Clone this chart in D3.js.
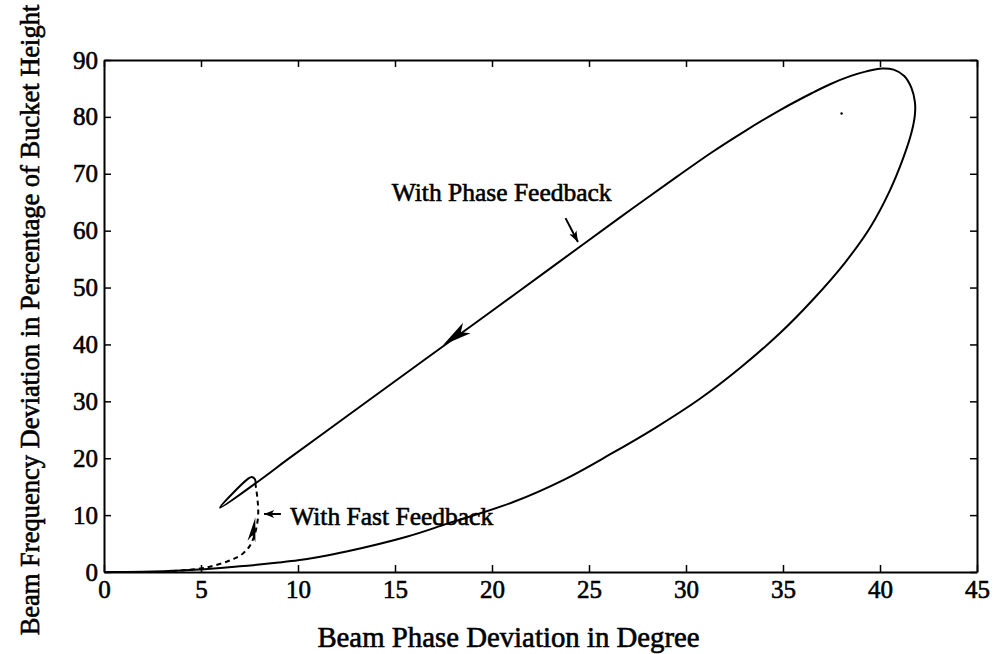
<!DOCTYPE html>
<html>
<head>
<meta charset="utf-8">
<script src="https://cdn.jsdelivr.net/npm/d3@7"></script>
<style>
    html, body { margin: 0; padding: 0; background: #fff; }
    svg text { font-family: "Liberation Serif", "Times New Roman", serif; fill: #000; }
</style>
</head>
<body>
<script>
// values
const xTicks = [0, 5, 10, 15, 20, 25, 30, 35, 40, 45];
const yTicks = [0, 10, 20, 30, 40, 50, 60, 70, 80, 90];

// trajectory with phase feedback: [phase deg, freq %]
const phaseFeedback = [
    [0, 0], [2, 0.05], [4, 0.25], [5, 0.45], [6, 0.7], [7, 1.0], [8, 1.3], [9, 1.65], [10, 2.05],
    [11, 2.6], [12.5, 3.6], [15.6, 6.2], [17.7, 8.5], [21.1, 12.3], [23.7, 16.2], [26.1, 20.7],
    [28.4, 25.3], [30.7, 30.4], [32.8, 35.9], [34.85, 42.0], [36.55, 47.9], [38.2, 54.4],
    [39.5, 60.6], [40.5, 67.0], [41.2, 72.8], [41.62, 77.2], [41.8, 80.4], [41.8, 82.6],
    [41.62, 85.1], [41.25, 87.2], [40.7, 88.3], [40.1, 88.5], [39.3, 88.0], [38.5, 87.2],
    [37.4, 85.7], [36.5, 84.2], [34.85, 81.2], [33.08, 77.6], [31.3, 73.7], [29.5, 69.4],
    [27.2, 63.8], [24.9, 58.1], [21.25, 49.0], [18.75, 42.8], [15.67, 35.2], [12.57, 27.5],
    [9.43, 19.7], [8.1, 16.3], [5.98, 11.3], [7.45, 16.45], [7.62, 16.7], [7.78, 16.3], [7.82, 15.6]
];

// trajectory with fast feedback (dashed)
const fastFeedback = [
    [3.5, 0.15], [4.95, 0.6], [5.6, 1.05], [6.32, 1.8], [6.8, 2.5], [7.18, 3.3], [7.5, 4.5],
    [7.7, 5.9], [7.87, 8.0], [7.95, 10.3], [7.92, 12.5], [7.85, 14.5], [7.8, 15.6]
];

// direction arrowheads on the curves: tip and back, in data units
const curveArrows = [
    { tip: [17.48, 39.9], back: [18.7, 42.9], width: 13 },
    { tip: [7.8, 9.6], back: [7.6, 5.4], width: 8 }
];

// labels with pointer arrows
const labels = [
    { text: 'With Phase Feedback', at: [14.83, 65.2], from: [23.79, 62.2], to: [24.43, 58.0] },
    { text: 'With Fast Feedback', at: [9.6, 8.2], from: [9.12, 10.2], to: [8.25, 10.2] }
];

const stray = [[38.02, 80.6]];

const xTitle = 'Beam Phase Deviation in Degree';
const yTitle = 'Beam Frequency Deviation in Percentage of Bucket Height';

const width = 994, height = 654;
const margin = { top: 60, right: 17, bottom: 82, left: 104 };

const svg = d3.select('body').append('svg')
    .attr('width', width)
    .attr('height', height);

svg.append('rect').attr('width', width).attr('height', height).attr('fill', '#fff');

const x = d3.scaleLinear().domain([0, 45]).range([margin.left, width - margin.right]);
const y = d3.scaleLinear().domain([0, 90]).range([height - margin.bottom, margin.top]);

const fontSize = 25;

function styleAxis(g) {
    g.select('.domain').attr('stroke', '#000').attr('stroke-width', 2);
    g.selectAll('.tick line').attr('stroke', '#000').attr('stroke-width', 1.5);
    g.selectAll('.tick text')
        .attr('font-size', fontSize)
        .attr('font-family', '"Liberation Serif", "Times New Roman", serif')
        .attr('stroke', '#000').attr('stroke-width', 0.6);
}

svg.append('g')
    .attr('transform', `translate(0,${y(0)})`)
    .call(d3.axisBottom(x).tickValues(xTicks).tickSize(-7).tickSizeOuter(0).tickPadding(8))
    .call(styleAxis);

svg.append('g')
    .attr('transform', `translate(0,${y(90)})`)
    .call(d3.axisTop(x).tickValues(xTicks).tickSize(-7).tickSizeOuter(0).tickFormat(''))
    .call(styleAxis);

svg.append('g')
    .attr('transform', `translate(${x(0)},0)`)
    .call(d3.axisLeft(y).tickValues(yTicks).tickSize(-7).tickSizeOuter(0).tickPadding(6))
    .call(styleAxis);

svg.append('g')
    .attr('transform', `translate(${x(45)},0)`)
    .call(d3.axisRight(y).tickValues(yTicks).tickSize(-7).tickSizeOuter(0).tickFormat(''))
    .call(styleAxis);

const line = d3.line()
    .x(d => x(d[0]))
    .y(d => y(d[1]))
    .curve(d3.curveCatmullRom.alpha(0.5));

svg.append('path')
    .datum(phaseFeedback)
    .attr('fill', 'none')
    .attr('stroke', '#000')
    .attr('stroke-width', 2)
    .attr('stroke-linejoin', 'round')
    .attr('d', line);

svg.append('path')
    .datum(fastFeedback)
    .attr('fill', 'none')
    .attr('stroke', '#000')
    .attr('stroke-width', 2)
    .attr('stroke-dasharray', '5,4')
    .attr('d', line);

// arrowhead polygon from tip/back points in pixels
function headPath(tx, ty, bx, by, w) {
    const dx = tx - bx, dy = ty - by;
    const len = Math.hypot(dx, dy);
    const nx = -dy / len, ny = dx / len;
    const mx = bx + dx * 0.25, my = by + dy * 0.25;
    return `M${tx},${ty}L${bx + nx * w / 2},${by + ny * w / 2}L${mx},${my}L${bx - nx * w / 2},${by - ny * w / 2}Z`;
}

svg.selectAll('.curve-arrow')
    .data(curveArrows)
    .join('path')
    .attr('class', 'curve-arrow')
    .attr('fill', '#000')
    .attr('d', d => headPath(x(d.tip[0]), y(d.tip[1]), x(d.back[0]), y(d.back[1]), d.width));

svg.selectAll('.label')
    .data(labels)
    .join('text')
    .attr('class', 'label')
    .attr('x', d => x(d.at[0]))
    .attr('y', d => y(d.at[1]))
    .attr('font-size', 25.5)
    .attr('stroke', '#000').attr('stroke-width', 0.6)
    .text(d => d.text);

const pointers = svg.selectAll('.pointer')
    .data(labels)
    .join('g')
    .attr('class', 'pointer');

pointers.append('line')
    .attr('x1', d => x(d.from[0]))
    .attr('y1', d => y(d.from[1]))
    .attr('x2', d => x(d.to[0]))
    .attr('y2', d => y(d.to[1]))
    .attr('stroke', '#000')
    .attr('stroke-width', 2);

pointers.append('path')
    .attr('fill', '#000')
    .attr('d', d => {
        const fx = x(d.from[0]), fy = y(d.from[1]);
        const tx = x(d.to[0]), ty = y(d.to[1]);
        const len = Math.hypot(tx - fx, ty - fy);
        const k = Math.min(11, len * 0.6) / len;
        return headPath(tx, ty, tx - (tx - fx) * k, ty - (ty - fy) * k, 8);
    });

svg.selectAll('.stray')
    .data(stray)
    .join('circle')
    .attr('class', 'stray')
    .attr('cx', d => x(d[0]))
    .attr('cy', d => y(d[1]))
    .attr('r', 1.2)
    .attr('fill', '#000');

svg.append('text')
    .attr('x', (x(0) + x(45)) / 2 - 32)
    .attr('y', 647)
    .attr('text-anchor', 'middle')
    .attr('font-size', 28.8)
    .attr('stroke', '#000').attr('stroke-width', 0.6)
    .text(xTitle);

svg.append('text')
    .attr('transform', `translate(39,${(y(0) + y(90)) / 2 + 4}) rotate(-90)`)
    .attr('text-anchor', 'middle')
    .attr('font-size', 26.5)
    .attr('stroke', '#000').attr('stroke-width', 0.6)
    .text(yTitle);
</script>
</body>
</html>
